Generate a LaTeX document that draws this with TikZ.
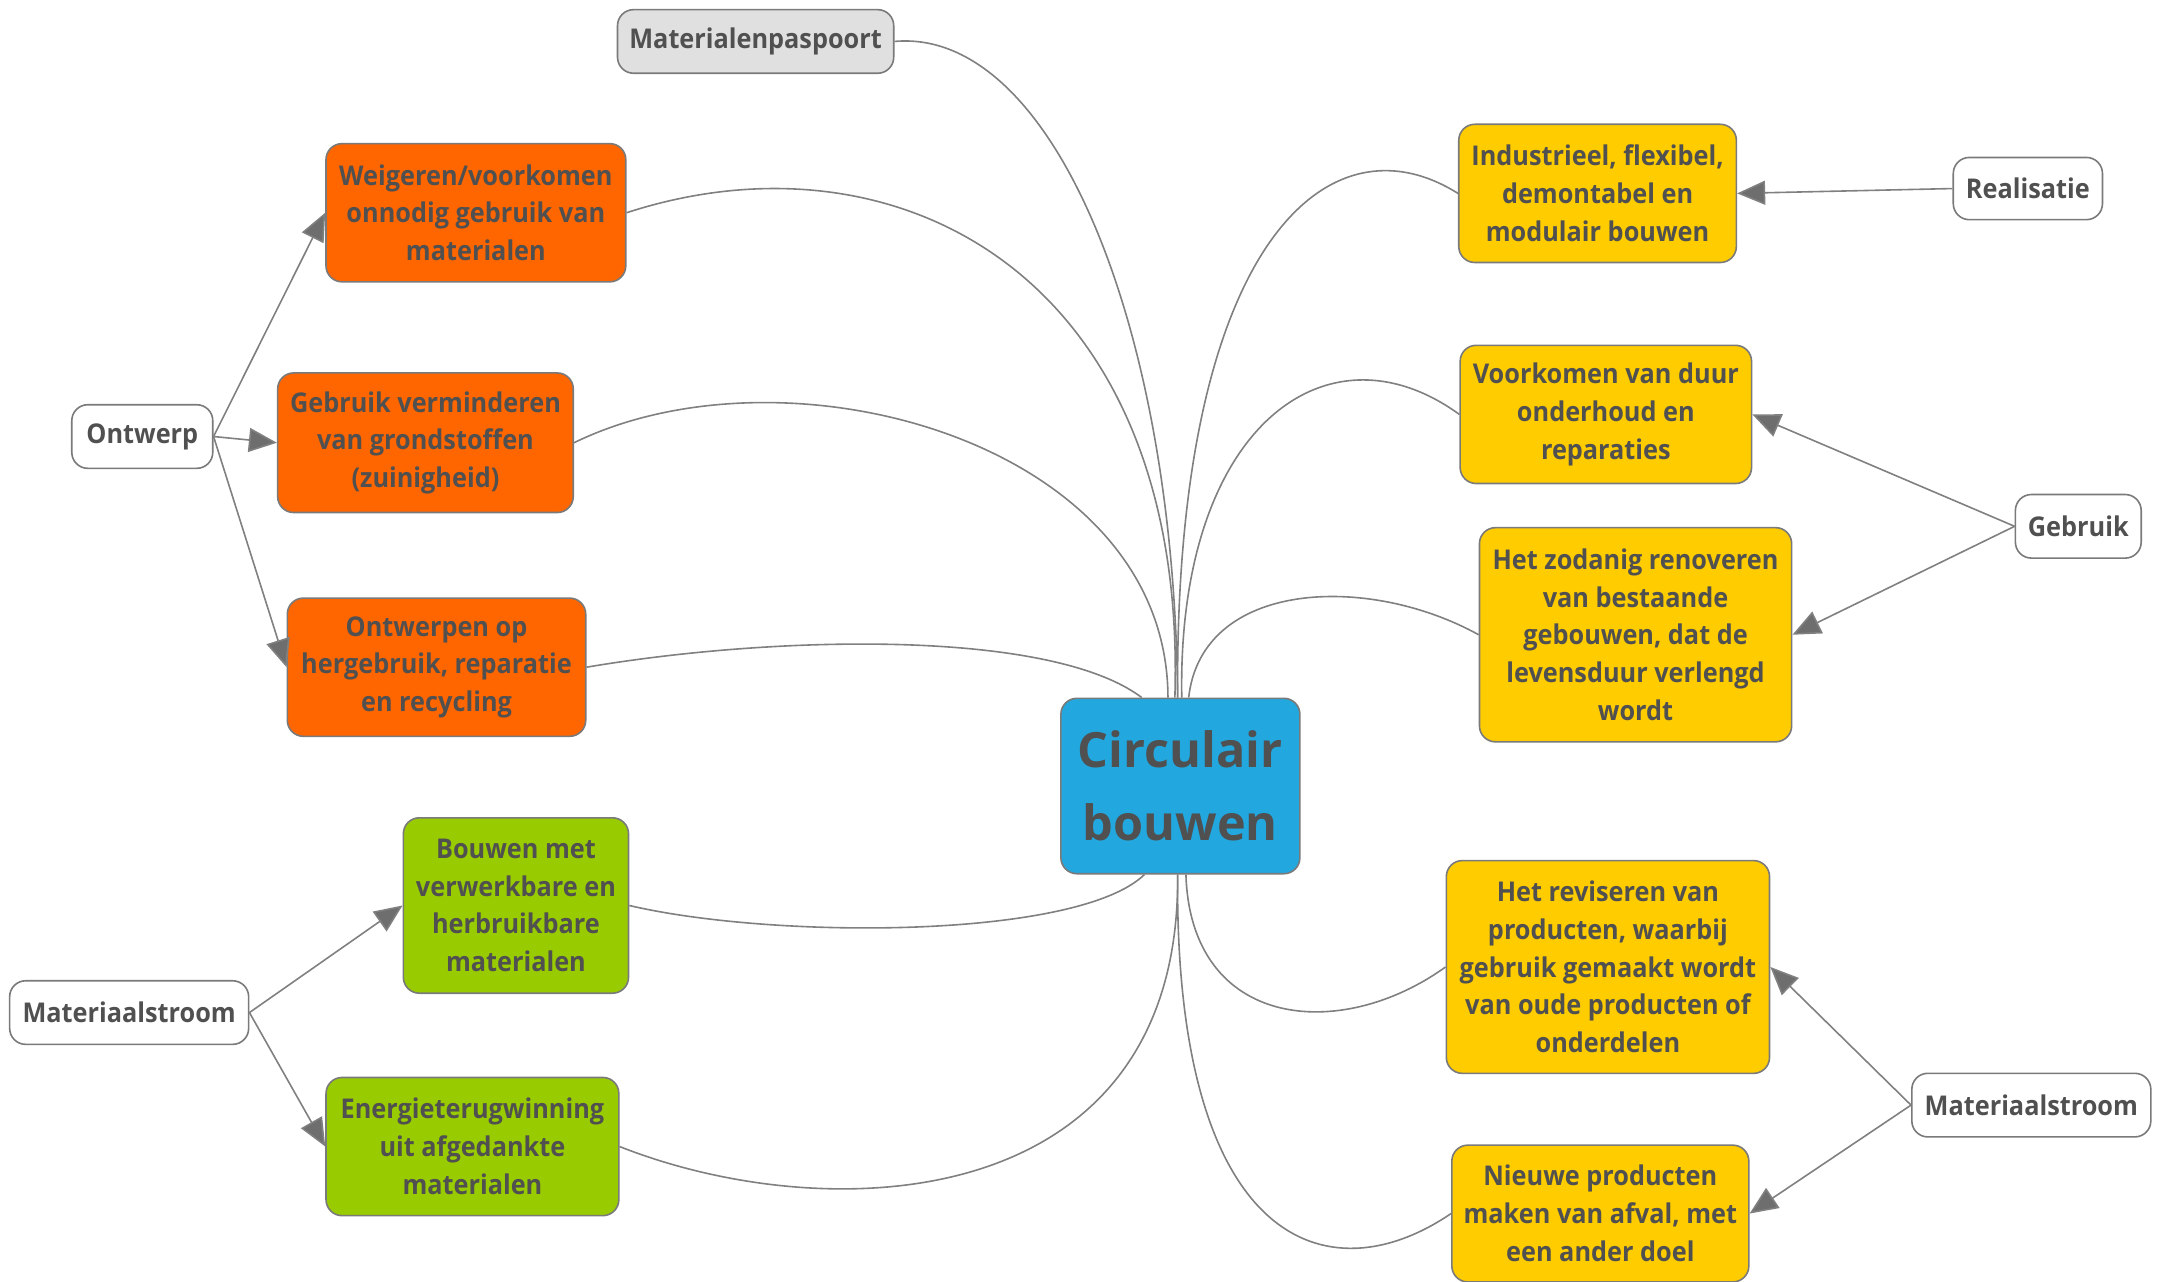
\documentclass[tikz,border=0pt]{standalone}
\usepackage{fontspec}
\setmainfont{Open Sans}
\newfontfamily\nodefont{Open Sans}[FakeStretch=0.93]
\usetikzlibrary{arrows.meta,calc}
\definecolor{orng}{HTML}{FF6600}
\definecolor{grn}{HTML}{99CC00}
\definecolor{ylw}{HTML}{FFCC00}
\definecolor{blu}{HTML}{22A7DF}
\definecolor{lgry}{HTML}{E0E0E0}
\definecolor{bord}{HTML}{7A7A7A}
\definecolor{txt}{HTML}{505050}
\definecolor{lnk}{HTML}{808080}
\definecolor{tip}{HTML}{6E6E6E}
\begin{document}
\begin{tikzpicture}[x=0.6907pt,y=-0.6907pt,
  box/.style={draw=bord,line width=0.8pt,rounded corners=8pt,align=center,inner sep=0pt,
    text=txt,font=\nodefont\bfseries\fontsize{13.6}{18.9}\selectfont},
  orangebox/.style={box,fill=orng},
  greenbox/.style={box,fill=grn},
  yellowbox/.style={box,fill=ylw},
  labelbox/.style={box,fill=white},
  centerbox/.style={box,fill=blu,font=\bfseries\fontsize{24.3}{36.6}\selectfont},
  branch/.style={draw=lnk,line width=0.8pt},
  arr/.style={draw=lnk,line width=0.8pt,-{Triangle[length=14pt,width=12pt,fill=tip]},color=lnk}
]
\useasboundingbox (0,0) rectangle (1568,928);
% center
\node[centerbox,minimum width=119.5pt,minimum height=87.7pt] (C) at (854.5,569) {Circulair\\bouwen};
% top
\node[box,fill=lgry,minimum width=138.1pt,minimum height=31.8pt] (MP) at (547,30) {Materialenpaspoort};
% left orange
\node[orangebox,minimum width=149.9pt,minimum height=69.1pt] (W) at (344.5,154) {Weigeren/voorkomen\\onnodig gebruik van\\materialen};
\node[orangebox,minimum width=147.8pt,minimum height=69.8pt] (GV) at (308,320.5) {Gebruik verminderen\\van grondstoffen\\(zuinigheid)};
\node[orangebox,minimum width=149.2pt,minimum height=69.1pt] (OO) at (316,483) {Ontwerpen op\\hergebruik, reparatie\\en recycling};
\node[labelbox,minimum width=70.5pt,minimum height=31.8pt] (ON) at (103,316) {Ontwerp};
% left green
\node[greenbox,minimum width=112.6pt,minimum height=87.7pt] (BM) at (373.5,655.5) {Bouwen met\\verwerkbare en\\herbruikbare\\materialen};
\node[greenbox,minimum width=146.4pt,minimum height=69.1pt] (EN) at (342,830) {Energieterugwinning\\uit afgedankte\\materialen};
\node[labelbox,minimum width=119.5pt,minimum height=31.8pt] (ML) at (93.5,733) {Materiaalstroom};
% right yellow
\node[yellowbox,minimum width=138.8pt,minimum height=69.1pt] (IN) at (1156.5,140) {Industrieel, flexibel,\\demontabel en\\modulair bouwen};
\node[labelbox,minimum width=74.6pt,minimum height=31.1pt] (RE) at (1468,136.5) {Realisatie};
\node[yellowbox,minimum width=145.7pt,minimum height=69.1pt] (VO) at (1162.5,300) {Voorkomen van duur\\onderhoud en\\reparaties};
\node[labelbox,minimum width=62.9pt,minimum height=31.8pt] (GE) at (1504.5,381) {Gebruik};
\node[yellowbox,minimum width=156.1pt,minimum height=107.1pt] (HZ) at (1184,459.5) {Het zodanig renoveren\\van bestaande\\gebouwen, dat de\\levensduur verlengd\\wordt};
\node[yellowbox,minimum width=161.6pt,minimum height=106.4pt] (HR) at (1164,700) {Het reviseren van\\producten, waarbij\\gebruik gemaakt wordt\\van oude producten of\\onderdelen};
\node[yellowbox,minimum width=148.5pt,minimum height=68.4pt] (NP) at (1158.5,878.5) {Nieuwe producten\\maken van afval, met\\een ander doel};
\node[labelbox,minimum width=119.5pt,minimum height=31.8pt] (MR) at (1470.5,800) {Materiaalstroom};
% curved branches
\draw[branch] (MP.east) .. controls (760,20) and (850,230) .. ($(C.north)+(-2,0)$);
\draw[branch] (W.east) .. controls (650,90) and (860,200) .. ($(C.north)+(-4,0)$);
\draw[branch] (GV.east) .. controls (570,245) and (845,320) .. ($(C.north)+(-9,0)$);
\draw[branch] (OO.east) .. controls (560,460) and (760,455) .. ($(C.north)+(-28,0)$);
\draw[branch] (BM.east) .. controls (560,680) and (780,680) .. ($(C.south)+(-26,0)$);
\draw[branch] (EN.east) .. controls (600,890) and (855,880) .. ($(C.south)+(-2,0)$);
\draw[branch] (IN.west) .. controls (960,80) and (850,180) .. ($(C.north)+(-2,0)$);
\draw[branch] (VO.west) .. controls (960,230) and (852,310) .. ($(C.north)+(1,0)$);
\draw[branch] (HZ.west) .. controls (990,415) and (870,420) .. ($(C.north)+(6,0)$);
\draw[branch] (HR.west) .. controls (970,755) and (862,745) .. ($(C.south)+(4,0)$);
\draw[branch] (NP.west) .. controls (960,940) and (850,900) .. ($(C.south)+(-2,0)$);
% arrows
\draw[arr] (ON.east) -- (W.west);
\draw[arr] (ON.east) -- (GV.west);
\draw[arr] (ON.east) -- (OO.west);
\draw[arr] (ML.east) -- (BM.west);
\draw[arr] (ML.east) -- (EN.west);
\draw[arr] (RE.west) -- (IN.east);
\draw[arr] (GE.west) -- (VO.east);
\draw[arr] (GE.west) -- (HZ.east);
\draw[arr] (MR.west) -- (HR.east);
\draw[arr] (MR.west) -- (NP.east);
\end{tikzpicture}
\end{document}
